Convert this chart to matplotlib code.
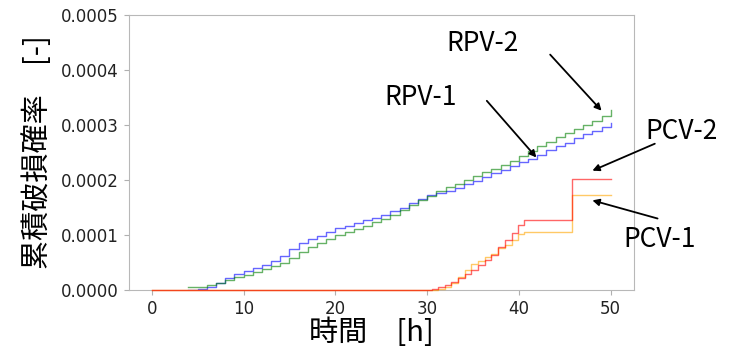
"""Cumulative failure probability over time for RPV / PCV (step curves with callouts)."""

import matplotlib

matplotlib.use("Agg")
import matplotlib.pyplot as plt  # noqa: E402

plt.rcParams["font.family"] = "DejaVu Sans"
JP_FONT = ["Noto Sans CJK JP", "DejaVu Sans"]

# RPV curves: hourly steps starting at t=4 h
rpv_hours = list(range(4, 51))
rpv1 = [0.0, 0.2, 0.5, 1.2, 2.2, 3.0, 3.5, 4.0, 4.6, 5.2, 6.2, 7.4, 8.6, 9.3, 9.9,
        10.5, 11.2, 11.7, 12.2, 12.7, 13.1, 13.6, 14.3, 15.0, 15.8, 16.6, 17.2,
        17.6, 18.0, 18.5, 19.2, 19.9, 20.5, 21.2, 21.8, 22.5, 23.2, 23.9, 24.6,
        25.4, 26.1, 26.8, 27.6, 28.3, 29.0, 29.7, 30.3]
rpv2 = [0.5, 0.5, 0.9, 1.3, 1.8, 2.3, 2.8, 3.3, 3.8, 4.3, 5.0, 5.9, 6.9, 7.8, 8.6,
        9.3, 10.0, 10.6, 11.1, 11.7, 12.4, 13.0, 13.7, 14.6, 15.5, 16.3, 17.1,
        18.0, 18.7, 19.3, 20.0, 20.7, 21.4, 22.0, 22.7, 23.4, 24.3, 25.2, 26.1,
        27.0, 27.8, 28.6, 29.3, 30.0, 30.8, 31.7, 32.8]

# PCV curves: flat until ~30 h, then rising, plateau, jump at ~45.8 h
pcv2_hours = [0, 30.5, 31.2, 31.9, 32.6, 33.4, 34.1, 34.8, 35.5, 36.3, 37.0, 37.7,
              38.5, 39.2, 39.9, 40.6, 45.8, 50]
pcv2 = [0.0, 0.2, 0.5, 0.9, 1.5, 2.1, 2.9, 3.6, 4.5, 5.4, 6.3, 7.8,
        9.1, 10.3, 11.8, 12.8, 20.2, 20.2]
pcv1_hours = [0, 31.2, 31.9, 32.6, 33.4, 34.1, 34.8, 35.5, 36.3, 37.0, 37.7,
              38.5, 39.2, 39.9, 40.6, 45.8, 50]
pcv1 = [0.0, 0.2, 0.5, 1.2, 2.4, 3.6, 4.8, 5.3, 6.0, 6.6, 7.6,
        8.2, 9.1, 10.1, 10.6, 17.3, 17.3]

SCALE = 1e-5  # values above are in units of 1e-5


def scaled(values):
    return [v * SCALE for v in values]


fig = plt.figure(figsize=(7.36, 3.49), dpi=100)
ax = fig.add_axes([0.175, 0.169, 0.686, 0.788])

ax.plot(rpv_hours, scaled(rpv1), drawstyle="steps-post", color="blue", alpha=0.6, lw=1)
ax.plot(rpv_hours, scaled(rpv2), drawstyle="steps-post", color="green", alpha=0.6, lw=1)
ax.plot(pcv1_hours, scaled(pcv1), drawstyle="steps-post", color="orange", alpha=0.6,
        lw=1, zorder=3, clip_on=False)
ax.plot(pcv2_hours, scaled(pcv2), drawstyle="steps-post", color="red", alpha=0.6,
        lw=1, zorder=3, clip_on=False)

ax.set_xlim(-2.5, 52.5)
ax.set_ylim(0, 0.0005)
ax.set_xticks([0, 10, 20, 30, 40, 50])
ax.set_yticks([0, 0.0001, 0.0002, 0.0003, 0.0004, 0.0005])
ax.set_yticklabels([f"{v:.4f}" for v in ax.get_yticks()])
ax.tick_params(labelsize=12, color="#b0b0b0", labelcolor="#222222")
for spine in ax.spines.values():
    spine.set_color("#b8b8b8")

ax.set_xlabel("時間　[h]", fontsize=21, family=JP_FONT, labelpad=1)
ax.xaxis.set_label_coords(0.48, -0.1)
ax.set_ylabel("累積破損確率　[-]", fontsize=21, family=JP_FONT, labelpad=6)

# Callouts: (label, text position, arrow tail, arrow head)
callouts = [
    ("RPV-2", (36.0, 4.49e-4), (43.4, 4.28e-4), (49.0, 3.26e-4)),
    ("RPV-1", (29.3, 3.50e-4), (36.5, 3.44e-4), (41.9, 2.41e-4)),
    ("PCV-2", (57.7, 2.88e-4), (54.8, 2.66e-4), (48.0, 2.17e-4)),
    ("PCV-1", (55.3, 0.91e-4), (55.1, 1.30e-4), (48.0, 1.63e-4)),
]
for label, text_xy, tail, head in callouts:
    ax.text(*text_xy, label, fontsize=19, family=JP_FONT, ha="center", va="center",
            clip_on=False)
    ax.annotate("", xy=head, xytext=tail, annotation_clip=False,
                arrowprops=dict(arrowstyle="-|>", color="black", lw=1.3,
                                mutation_scale=10, shrinkA=0, shrinkB=0))

fig.savefig("out.png", dpi=100)
